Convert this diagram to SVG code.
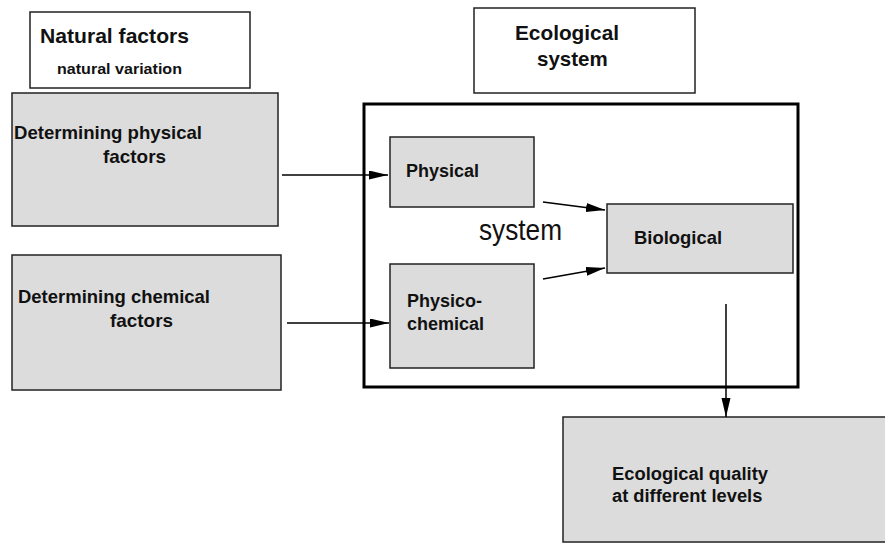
<svg xmlns="http://www.w3.org/2000/svg" width="885" height="552" viewBox="0 0 885 552">
<style>
.w{fill:#fff;stroke:#222;stroke-width:1.5}
.g{fill:#dcdcdc;stroke:#222;stroke-width:1.5}
.t{font-family:"Liberation Sans",Arial,sans-serif;font-weight:bold;fill:#111}
.c{stroke:#000;stroke-width:1.5;fill:none;marker-end:url(#ah)}
</style>
<defs>
<marker id="ah" markerUnits="userSpaceOnUse" markerWidth="20" markerHeight="10" refX="19" refY="4.5" orient="auto">
<path d="M0,0 L19,4.5 L0,9 z" fill="#000"/>
</marker>
</defs>
<rect width="885" height="552" fill="#fff"/>
<g id="natural">
<rect class="w" x="30" y="12" width="220" height="76"/>
<text class="t" x="40" y="43" font-size="21" textLength="149" lengthAdjust="spacingAndGlyphs">Natural factors</text>
<text class="t" x="57" y="74" font-size="15.5" textLength="125" lengthAdjust="spacingAndGlyphs">natural variation</text>
</g>
<g id="det-physical">
<rect class="g" x="12" y="93" width="266" height="133"/>
<text class="t" x="14" y="139" font-size="18.5" textLength="188" lengthAdjust="spacingAndGlyphs">Determining physical</text>
<text class="t" x="103" y="163" font-size="18.5" textLength="63" lengthAdjust="spacingAndGlyphs">factors</text>
</g>
<g id="det-chemical">
<rect class="g" x="12" y="255" width="269" height="135"/>
<text class="t" x="18" y="303" font-size="18.5" textLength="192" lengthAdjust="spacingAndGlyphs">Determining chemical</text>
<text class="t" x="110" y="327" font-size="18.5" textLength="63" lengthAdjust="spacingAndGlyphs">factors</text>
</g>
<g id="eco-title">
<rect class="w" x="474" y="8" width="221" height="85"/>
<text class="t" x="515" y="40" font-size="20.5" textLength="104" lengthAdjust="spacingAndGlyphs">Ecological</text>
<text class="t" x="537" y="66" font-size="20.5">system</text>
</g>
<g id="system">
<rect x="364" y="104" width="434" height="283" fill="#fff" stroke="#000" stroke-width="3"/>
<text x="479" y="240" font-family="'Liberation Sans',Arial,sans-serif" font-size="30" textLength="83" lengthAdjust="spacingAndGlyphs" fill="#111">system</text>
</g>
<g id="physical">
<rect class="g" x="390" y="137" width="144" height="70"/>
<text class="t" x="406" y="177" font-size="18" textLength="73" lengthAdjust="spacingAndGlyphs">Physical</text>
</g>
<g id="physico-chemical">
<rect class="g" x="390" y="264" width="144" height="104"/>
<text class="t" x="407" y="307" font-size="18">Physico-</text>
<text class="t" x="407" y="330" font-size="18">chemical</text>
</g>
<g id="biological">
<rect class="g" x="607" y="204" width="186" height="69"/>
<text class="t" x="634" y="244" font-size="18.5" textLength="88" lengthAdjust="spacingAndGlyphs">Biological</text>
</g>
<g id="quality">
<rect class="g" x="563" y="417" width="330" height="125"/>
<text class="t" x="612" y="480" font-size="18.3" textLength="156" lengthAdjust="spacingAndGlyphs">Ecological quality</text>
<text class="t" x="612" y="502" font-size="18.3">at different levels</text>
</g>
<g id="connectors">
<line class="c" x1="282" y1="175" x2="388" y2="175"/>
<line class="c" x1="287" y1="323" x2="389" y2="323"/>
<line class="c" x1="543" y1="202" x2="605" y2="210"/>
<line class="c" x1="543" y1="279" x2="605" y2="268"/>
<line class="c" x1="726" y1="304" x2="726" y2="417"/>
</g>
</svg>
